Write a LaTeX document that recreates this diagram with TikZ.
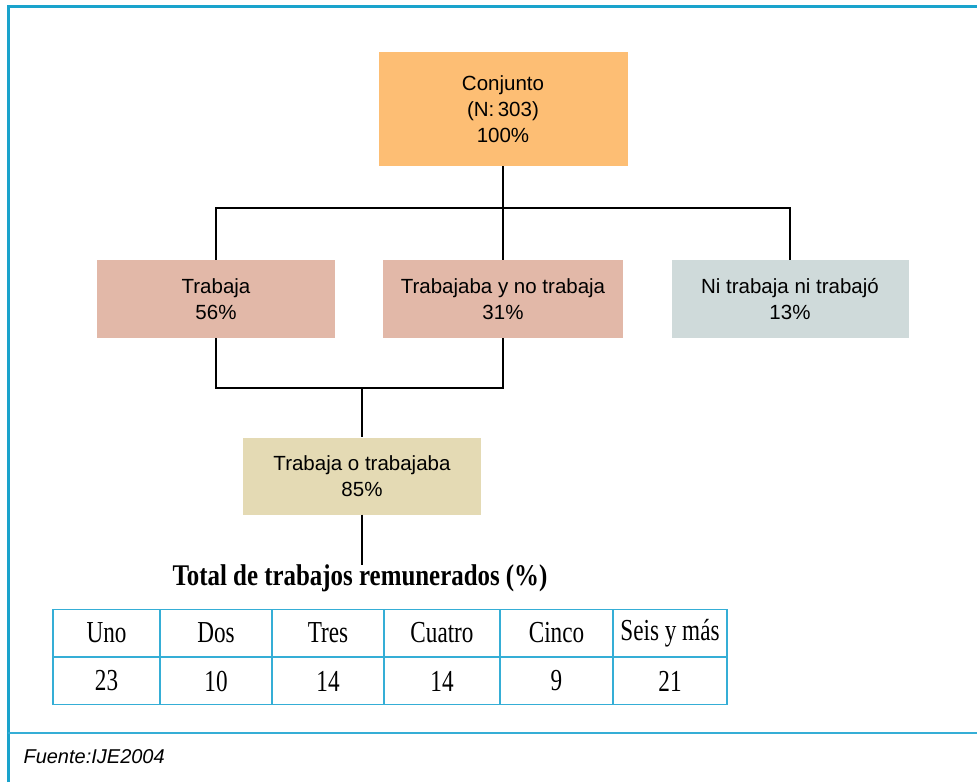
\documentclass[tikz,border=0pt]{standalone}
\usepackage{fontspec}
\setmainfont{Liberation Serif}
\setsansfont{Liberation Sans}
\newfontfamily\boxfont{Liberation Sans}
\newfontfamily\cellfont[FakeStretch=0.76]{Liberation Serif}
\newfontfamily\headfont[FakeStretch=0.83]{Liberation Serif}
\usetikzlibrary{positioning}

\definecolor{frameblue}{HTML}{1AA3CC}
\definecolor{gridblue}{HTML}{35AED6}
\definecolor{conjcol}{HTML}{FDBE74}
\definecolor{trabcol}{HTML}{E2B8A8}
\definecolor{nicol}{HTML}{CFDADA}
\definecolor{ocol}{HTML}{E4DAB4}

\tikzset{
  group/.style={inner sep=0pt, align=center, font=\boxfont\fontsize{20.5}{26}\selectfont},
  cell/.style={draw=gridblue, line width=1.5pt, minimum height=47pt, inner sep=0pt,
    font=\cellfont\fontsize{30.5}{32}\selectfont},
  link/.style={line width=1.8pt, black}
}

\begin{document}
\begin{tikzpicture}[x=1pt,y=-1pt]
    \useasboundingbox (0,0) rectangle (977,782);

    % draw the frame
    \draw[frameblue, line width=3pt] (8,782) -- (8,6) -- (977,6);
    \draw[gridblue, line width=1.8pt] (8,733) -- (977,733);

    % the groups
    \node[group, fill=conjcol, minimum width=249pt, minimum height=114pt] (conj) at (503,109)
      {Conjunto\\(N:\,303)\\100\%};
    \node[group, fill=trabcol, minimum width=238pt, minimum height=78pt] (trab) at (216,299)
      {Trabaja\\56\%};
    \node[group, fill=trabcol, minimum width=240pt, minimum height=78pt] (trabno) at (503,299)
      {Trabajaba y no trabaja\\31\%};
    \node[group, fill=nicol, minimum width=237pt, minimum height=78pt] (ni) at (790,299)
      {Ni trabaja ni trabajó\\13\%};
    \node[group, fill=ocol, minimum width=238pt, minimum height=77pt] (otrab) at (362,476)
      {Trabaja o trabajaba\\85\%};

    % draw the connectors
    \coordinate (upper) at (503,208);
    \coordinate (lower) at (362,388);
    \coordinate (tail) at (362,565);
    \draw[link] (conj.south) -- (trabno.north);
    \draw[link] (trab.north) |- (ni.north |- upper) -- (ni.north);
    \draw[link] (trab.south) |- (trabno.south |- lower) -- (trabno.south);
    \draw[link] (otrab.north |- lower) -- (otrab.north);
    \draw[link] (otrab.south) -- (tail);

    % the table
    \node[font=\headfont\bfseries\fontsize{30}{32}\selectfont] (title) at (360,578)
      {Total de trabajos remunerados (\%)};
    \foreach \l/\r/\name/\val [count=\i] in {
      53/160/Uno/23,
      160/272/Dos/10,
      272/384/Tres/14,
      384/500/Cuatro/14,
      500/613/Cinco/9,
      613/727/Seis y más/21}
    {
      \node[cell, minimum width=\r-\l] (head\i) at ({(\l+\r)/2},633) {\name};
      \node[cell, minimum width=\r-\l] (val\i) at ({(\l+\r)/2},681) {\val};
    }

    % source
    \node[font=\sffamily\itshape\fontsize{20}{22}\selectfont, anchor=west] (src) at (20,757)
      {Fuente:IJE2004};
\end{tikzpicture}
\end{document}
